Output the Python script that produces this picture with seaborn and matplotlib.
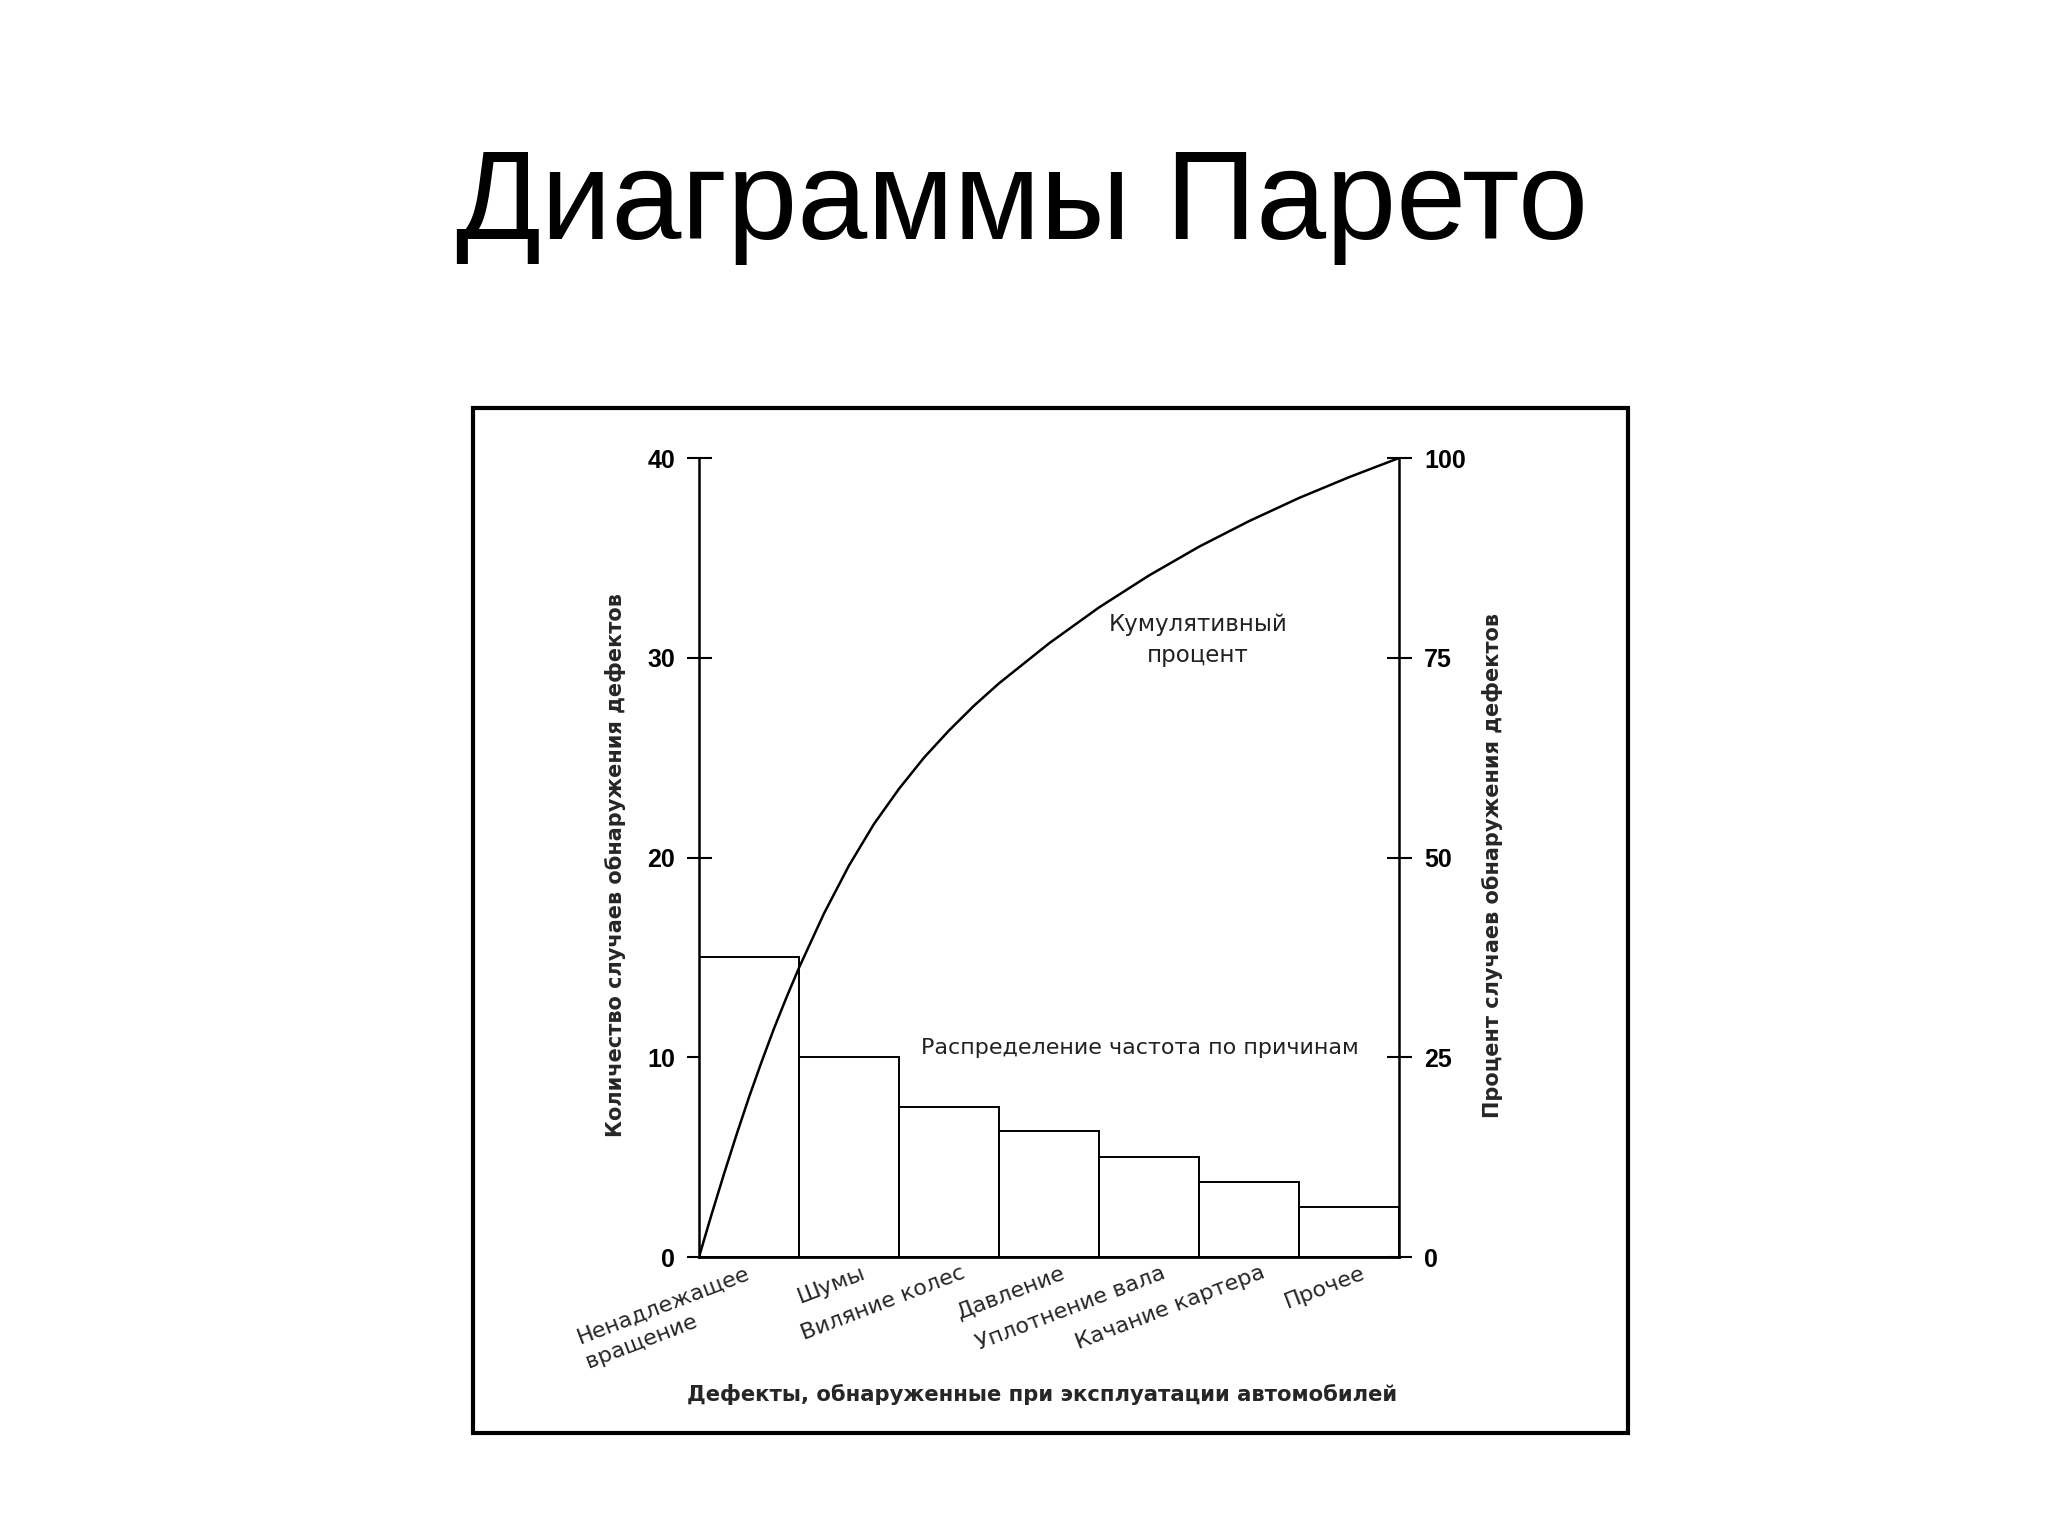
import numpy as np
import pandas as pd
import matplotlib
matplotlib.use("Agg")
import matplotlib.pyplot as plt
import matplotlib.transforms as mtransforms
from matplotlib.patches import Rectangle
import seaborn as sns

# ---------------------------------------------------------------------------
# Data
# ---------------------------------------------------------------------------
categories = ["Ненадлежащее\nвращение", "Шумы", "Виляние колес", "Давление",
              "Уплотнение вала", "Качание картера", "Прочее"]
counts = [15, 10, 7.5, 6.3, 5, 3.75, 2.5]

# cumulative curve: position in bar widths from the left axis, and percent
curve_pos = [0, 0.125, 0.25, 0.375, 0.5, 0.625, 0.75, 0.875, 1.0, 1.25, 1.5,
             1.75, 2.0, 2.25, 2.5, 2.75, 3.0, 3.5, 4.0, 4.5, 5.0, 5.5, 6.0,
             6.5, 7.0]
curve_pct = [0, 5.3, 10.4, 15.3, 20.0, 24.4, 28.6, 32.5, 36.2, 43.0, 49.0,
             54.2, 58.6, 62.5, 65.9, 69.0, 71.8, 76.8, 81.3, 85.3, 88.9, 92.1,
             95.0, 97.6, 100]

count_ticks = [0, 10, 20, 30, 40]
pct_ticks = [0, 25, 50, 75, 100]

TITLE = "Диаграммы Парето"
XLABEL = "Дефекты, обнаруженные при эксплуатации автомобилей"
YLABEL_L = "Количество случаев обнаружения дефектов"
YLABEL_R = "Процент случаев обнаружения дефектов"

sns.set_style("white")
plt.rcParams["font.family"] = ["DejaVu Sans"]
NUM_FONT = "Liberation Sans"

fig = plt.figure(figsize=(20.48, 15.36), dpi=100)
ax = fig.add_axes([0.3413, 0.1816, 0.3418, 0.5202])

df = pd.DataFrame({"cause": categories, "count": counts})
sns.barplot(data=df, x="cause", y="count", color="white", saturation=1,
            edgecolor="black", linewidth=1.4, width=1.0, ax=ax)
ax.set_xlim(-0.5, 6.5)
ax.set_ylim(0, 40)
ax.set_yticks(count_ticks)

# cumulative percent on the twin axis
ax2 = ax.twinx()
sns.lineplot(x=np.array(curve_pos) - 0.5, y=curve_pct, color="black",
             linewidth=1.8, ax=ax2)
ax2.set_ylim(0, 100)
ax2.set_yticks(pct_ticks)

# spines
for s in ["top", "right"]:
    ax.spines[s].set_visible(False)
for s in ["top", "left", "bottom"]:
    ax2.spines[s].set_visible(False)
ax.spines["left"].set_linewidth(1.8)
ax.spines["bottom"].set_linewidth(2.0)
ax2.spines["right"].set_linewidth(1.8)
for sp in list(ax.spines.values()) + list(ax2.spines.values()):
    sp.set_color("black")

# ticks
ax.tick_params(axis="y", left=True, direction="inout", length=18, width=1.5,
               pad=8, labelsize=18, colors="black")
ax2.tick_params(axis="y", right=True, direction="inout", length=18, width=1.5,
                pad=9, labelsize=18, colors="black")
for lbl in ax.get_yticklabels() + ax2.get_yticklabels():
    lbl.set_fontfamily(NUM_FONT)
    lbl.set_fontweight("bold")

ax.tick_params(axis="x", bottom=False, length=0, pad=4, labelsize=16)
for lbl in ax.get_xticklabels():
    two_lines = "\n" in lbl.get_text()
    dx = -0.04 if two_lines else 0.12
    lbl.set_rotation(21)
    lbl.set_ha("right")
    lbl.set_va("top")
    lbl.set_rotation_mode("anchor")
    lbl.set_multialignment("left")
    if two_lines:
        lbl.set_linespacing(1.4)
    lbl.set_transform(lbl.get_transform()
                      + mtransforms.ScaledTranslation(dx, 0, fig.dpi_scale_trans))

# axis labels
ax.set_xlabel(XLABEL, fontsize=15.2, fontweight="bold")
ax.xaxis.set_label_coords(0.49, -0.1715)
ax.xaxis.label.set_va("center")

ax.set_ylabel(YLABEL_L, fontsize=15, fontweight="bold")
ax.yaxis.set_label_coords(-0.1186, 0.49)
ax.yaxis.label.set_va("center")

ax2.set_ylabel(YLABEL_R, fontsize=15, fontweight="bold", rotation=90)
ax2.yaxis.set_label_coords(1.134, 0.49)
ax2.yaxis.label.set_va("center")

# annotations
ax.text(4.49, 30.9, "Кумулятивный\nпроцент", ha="center", va="center",
        fontsize=16.5, color="#222222", linespacing=1.45)
ax.text(3.91, 10.46, "Распределение частота по причинам", ha="center",
        va="center", fontsize=16, color="#222222")

# slide title and frame
fig.text(0.499, 0.8444, TITLE, fontsize=90.5, family=NUM_FONT,
         ha="center", va="baseline", color="black")
fig.add_artist(Rectangle((0.231, 0.0671), 0.564, 0.6673,
                         transform=fig.transFigure, fill=False,
                         lw=3, ec="black"))

fig.savefig("out.png", dpi=100, facecolor="white")
